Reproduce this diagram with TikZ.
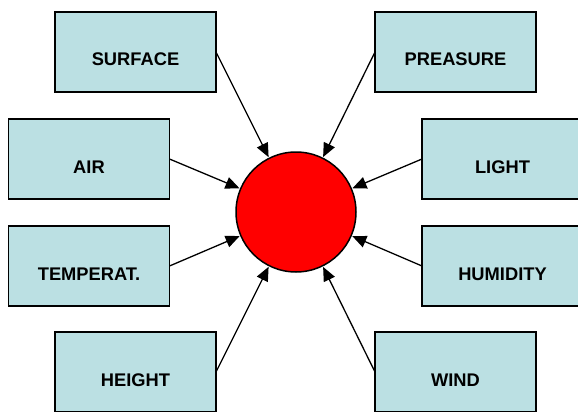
\documentclass[tikz,border=0pt]{standalone}
\usepackage{fontspec}
\setmainfont{Liberation Sans}
\usetikzlibrary{arrows.meta}
\definecolor{boxfill}{RGB}{187,224,227}
\begin{document}
\begin{tikzpicture}[x=1pt,y=-1pt,
  factor/.style={draw=black, line width=1.5pt, fill=boxfill,
    minimum width=161pt, minimum height=80pt, inner sep=0pt, outer sep=0pt,
    font=\fontsize{18.3pt}{20pt}\selectfont\bfseries, text=black,
    text height=28pt, text depth=0pt},
  hub/.style={circle, draw=black, line width=1.5pt, fill=red,
    minimum size=120pt, inner sep=0pt},
  feed/.style={draw=black, line width=1.3pt,
    -{Triangle[length=14pt,width=12pt]}, shorten >=0.5pt}]
\useasboundingbox (0,0) rectangle (578,412);
\clip (0,0) rectangle (578,412);
\node[hub] (c) at (296,212) {};
\node[factor] (surf) at (135.5,52) {SURFACE};
\node[factor] (pres) at (455.5,52) {PREASURE};
\node[factor] (air)  at (89,159) {AIR};
\node[factor] (light) at (502.5,159) {LIGHT};
\node[factor] (temp) at (89,266) {TEMPERAT.};
\node[factor] (hum) at (502.5,266) {HUMIDITY};
\node[factor] (hgt) at (135.5,372) {HEIGHT};
\node[factor] (wind) at (455.5,372) {WIND};
\draw[feed] (surf.east) -- (c);
\draw[feed] (pres.west) -- (c);
\draw[feed] (air.east) -- (c);
\draw[feed] (light.west) -- (c);
\draw[feed] (temp.east) -- (c);
\draw[feed] (hum.west) -- (c);
\draw[feed] (hgt.east) -- (c);
\draw[feed] (wind.west) -- (c);
\end{tikzpicture}
\end{document}
